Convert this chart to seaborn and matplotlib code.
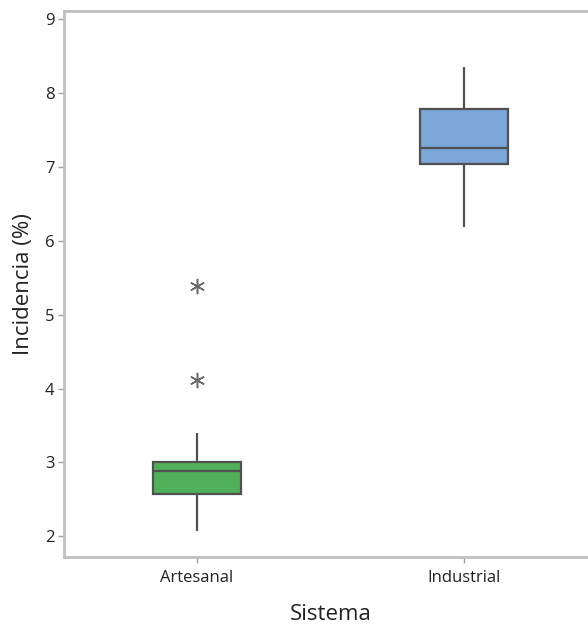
import pandas as pd
import matplotlib.pyplot as plt
import seaborn as sns

# values (quartiles, whiskers and outliers as drawn)
sistemas = ["Artesanal", "Industrial"]
artesanal = [2.07, 2.30, 2.45, 2.57, 2.70, 2.80, 2.88, 2.93, 2.97, 3.00, 3.40, 4.11, 5.39]
industrial = [6.19, 6.60, 6.90, 7.04, 7.12, 7.20, 7.26, 7.40, 7.60, 7.78, 8.00, 8.20, 8.35]
y_ticks = [2, 3, 4, 5, 6, 7, 8, 9]

df = pd.DataFrame({
    "Sistema": [sistemas[0]] * len(artesanal) + [sistemas[1]] * len(industrial),
    "Incidencia": artesanal + industrial,
})

sns.set_style("white")
plt.rcParams["font.family"] = ["Open Sans", "DejaVu Sans"]

fig = plt.figure(figsize=(5.88, 6.26), dpi=100)
ax = fig.add_axes([64 / 588, 69 / 626, 533 / 588, 546 / 626])

sns.boxplot(
    data=df, x="Sistema", y="Incidencia", hue="Sistema",
    palette=["#50b05a", "#7aa6d8"], saturation=1, width=0.333, linewidth=1.6,
    linecolor="#505050", whis=1.5, showcaps=False,
    flierprops=dict(marker=(6, 2, 0), markersize=11, markeredgecolor="#6a6a6a",
                    markeredgewidth=1.1),
    ax=ax, legend=False,
)

ax.set_ylim(1.72, 9.11)
ax.set_xlim(-0.498, 1.498)
ax.set_yticks(y_ticks)
ax.set_xlabel("Sistema", fontsize=16, labelpad=13, color="#222222")
ax.set_ylabel("Incidencia (%)", fontsize=16, labelpad=8, color="#222222")
ax.tick_params(axis="both", which="both", length=4, width=1, color="#a0a0a0",
               labelsize=12, labelcolor="#222222", direction="out",
               left=True, bottom=True)
ax.tick_params(axis="y", pad=3)
ax.tick_params(axis="x", pad=5)

for side in ["left", "top", "right", "bottom"]:
    ax.spines[side].set_visible(True)
    ax.spines[side].set_color("#c0c0c0")
    ax.spines[side].set_linewidth(2)

fig.savefig("out.png", dpi=100)
